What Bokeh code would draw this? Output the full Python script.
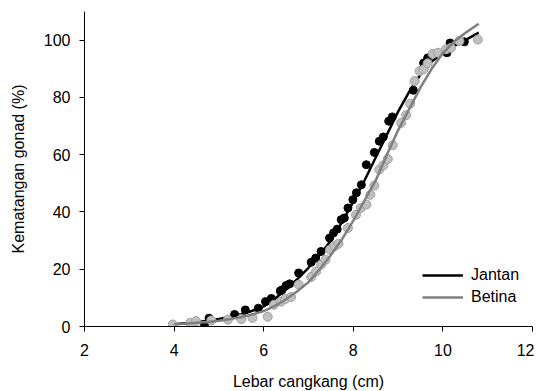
from bokeh.plotting import figure
from bokeh.models import Range1d, Legend, LegendItem, FixedTicker
from bokeh.embed import file_html
from bokeh.resources import INLINE

# Data
jantan_x = [4.68, 4.78, 5.35, 5.59, 5.88, 6.04, 6.17, 6.37, 6.41, 6.50, 6.58, 6.78, 7.06, 7.16, 7.28,
            7.47, 7.56, 7.64, 7.73, 7.80, 7.88, 7.99, 8.07, 8.18, 8.29, 8.47, 8.58, 8.67, 8.79, 8.87,
            9.34, 9.57, 9.66, 10.09, 10.16, 10.48]
jantan_y = [0.7, 2.9, 4.2, 5.8, 6.4, 8.7, 9.8, 12.4, 12.8, 14.3, 14.9, 18.7, 22.4, 23.9, 26.2,
            30.9, 32.7, 34.0, 37.3, 37.9, 41.4, 44.3, 46.7, 49.5, 56.5, 60.8, 64.7, 66.2, 71.7, 73.2,
            82.5, 92.0, 93.8, 95.6, 99.0, 99.4]

betina_x = [3.97, 4.36, 4.49, 4.83, 5.20, 5.50, 5.75, 6.09, 6.23, 6.39, 6.48, 6.61, 6.78, 7.06, 7.17,
            7.28, 7.38, 7.48, 7.58, 7.67, 7.88, 8.06, 8.17, 8.29, 8.38, 8.47, 8.58, 8.67, 8.77, 8.88,
            9.07, 9.18, 9.27, 9.37, 9.48, 9.57, 9.66, 9.77, 9.89, 10.07, 10.18, 10.37, 10.78]
betina_y = [0.7, 1.3, 1.9, 2.1, 2.4, 2.6, 3.0, 3.4, 7.6, 8.7, 9.6, 10.3, 14.6, 17.3, 19.2,
            21.6, 23.3, 26.8, 28.0, 28.9, 34.4, 39.0, 41.4, 42.6, 46.0, 49.2, 54.8, 56.3, 58.5, 63.3,
            71.1, 73.8, 77.8, 85.7, 89.2, 89.8, 91.9, 95.2, 95.6, 96.8, 97.3, 99.7, 100.2]

# Fitted curves
curve_x = [4.0, 4.25, 4.5, 4.75, 5.0, 5.25, 5.5, 5.75, 6.0, 6.25, 6.5, 6.75, 7.0, 7.25, 7.5,
           7.75, 8.0, 8.25, 8.5, 8.75, 9.0, 9.25, 9.5, 9.75, 10.0, 10.25, 10.5, 10.8]
jantan_curve = [0.8, 1.1, 1.5, 2.0, 2.6, 3.4, 4.3, 5.5, 7.0, 9.7, 13.0, 16.5, 20.5, 25.0, 30.0,
                36.5, 43.5, 51.0, 59.0, 67.0, 75.0, 82.0, 88.0, 92.5, 95.5, 98.0, 100.0, 102.6]
betina_curve = [0.8, 1.0, 1.3, 1.6, 2.0, 2.6, 3.3, 4.2, 5.4, 7.2, 9.5, 12.3, 15.5, 20.0, 25.0,
                30.5, 37.0, 44.0, 51.0, 60.0, 68.5, 76.0, 83.5, 90.0, 95.5, 99.5, 102.5, 105.7]

x_ticks = [2, 4, 6, 8, 10, 12]
y_ticks = [0, 20, 40, 60, 80, 100]

FONT = "Liberation Sans"

p = figure(width=534, height=390, output_backend="svg", toolbar_location=None,
           x_range=Range1d(2, 12), y_range=Range1d(0, 110),
           min_border_left=84, min_border_top=11, min_border_right=2, min_border_bottom=64)
p.frame_width = 448
p.frame_height = 315
p.outline_line_color = None
p.grid.grid_line_color = None
p.background_fill_color = "white"
p.border_fill_color = "white"

for ax in (p.xaxis[0], p.yaxis[0]):
    ax.axis_line_color = "black"
    ax.axis_line_width = 1
    ax.major_tick_line_color = "black"
    ax.major_tick_in = 0
    ax.major_tick_out = 5
    ax.minor_tick_line_color = None
    ax.major_label_text_font = FONT
    ax.major_label_text_font_size = "16px"
    ax.major_label_text_color = "black"
    ax.axis_label_text_font = FONT
    ax.axis_label_text_font_size = "16px"
    ax.axis_label_text_font_style = "normal"
    ax.axis_label_text_color = "black"

p.xaxis[0].ticker = FixedTicker(ticks=x_ticks)
p.yaxis[0].ticker = FixedTicker(ticks=y_ticks)
p.xaxis[0].axis_label = "Lebar cangkang (cm)"
p.yaxis[0].axis_label = "Kematangan gonad (%)"
p.xaxis[0].major_label_standoff = 12
p.yaxis[0].major_label_standoff = 9
p.xaxis[0].axis_label_standoff = 14
p.yaxis[0].axis_label_standoff = 14

p.scatter(jantan_x, jantan_y, size=8, marker="circle", fill_color="black", line_color="black")
lj = p.line(curve_x, jantan_curve, line_color="black", line_width=2.5)
p.scatter(betina_x, betina_y, size=9, marker="circle", fill_color="#c0c0c0", line_color="#a0a0a0", line_width=1)
lb = p.line(curve_x, betina_curve, line_color="#7f7f7f", line_width=2.5)

legend = Legend(items=[LegendItem(label="Jantan", renderers=[lj]),
                       LegendItem(label="Betina", renderers=[lb])],
                location=(338, 18), padding=0, margin=0, spacing=0,
                glyph_width=41, glyph_height=22, label_height=22,
                label_standoff=8, border_line_color=None, background_fill_alpha=0,
                label_text_font=FONT, label_text_font_size="16px", label_text_color="black")
p.add_layout(legend, "center")

open("out.html", "w").write(file_html(p, INLINE))
